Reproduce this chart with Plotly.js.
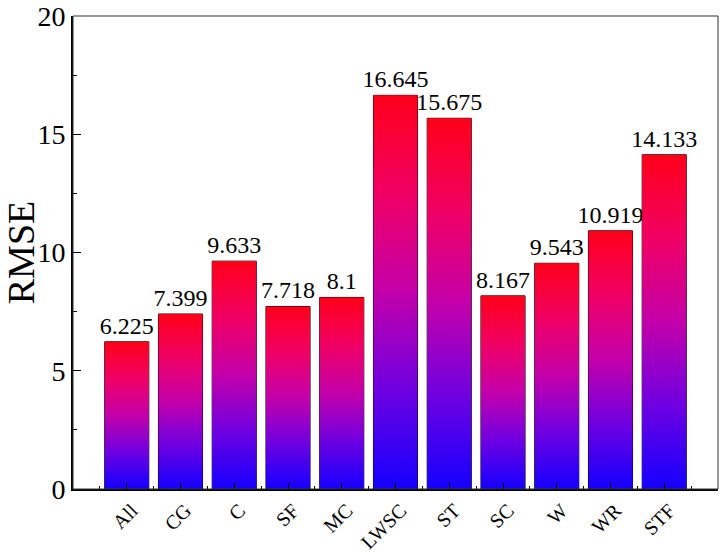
<!DOCTYPE html>
<html>
<head>
<meta charset="utf-8">
<script src="https://cdn.plot.ly/plotly-3.0.1.min.js"></script>
<style>html,body{margin:0;padding:0;background:#fff;}#chart{width:720px;height:552px;}</style>
</head>
<body>
<div id="chart"></div>
<script>
const categories = ["All","CG","C","SF","MC","LWSC","ST","SC","W","WR","STF"];
const rmse = [6.225, 7.399, 9.633, 7.718, 8.1, 16.645, 15.675, 8.167, 9.543, 10.919, 14.133];
const yTicks = [0, 5, 10, 15, 20];

const FONT = 'Liberation Serif, Times New Roman, serif';
const barWidth = 0.82;
const gradient = [
  [0, 'rgb(20,0,255)'],
  [0.25, 'rgb(110,0,225)'],
  [0.5, 'rgb(195,0,170)'],
  [0.75, 'rgb(240,0,100)'],
  [1, 'rgb(255,0,25)']
];
const idx = categories.map((c, i) => i);

const traces = [];
categories.forEach((c, i) => {
  const v = rmse[i];
  const h = barWidth / 2;
  traces.push({
    type: 'scatter', mode: 'lines',
    x: [i - h, i + h, i + h, i - h, i - h],
    y: [0, 0, v, v, 0],
    fill: 'toself',
    fillgradient: {type: 'vertical', colorscale: gradient},
    line: {width: 0, color: 'rgba(0,0,0,0)'},
    hoverinfo: 'skip', showlegend: false
  });
});
traces.push({
  type: 'bar',
  x: idx, y: rmse, width: barWidth,
  marker: {color: 'rgba(0,0,0,0)', line: {color: '#000', width: 1}},
  text: rmse.map(String), textposition: 'outside', constraintext: 'none',
  textfont: {family: FONT, size: 24, color: '#000'},
  cliponaxis: false,
  customdata: categories,
  hovertemplate: '%{customdata}: %{y}<extra></extra>',
  showlegend: false
});

const layout = {
  width: 720, height: 552,
  margin: {l: 73, r: 2, t: 16, b: 63},
  paper_bgcolor: '#fff', plot_bgcolor: '#fff',
  font: {family: FONT, color: '#000'},
  showlegend: false,
  xaxis: {
    range: [-1, 11],
    tickmode: 'array', tickvals: idx, ticktext: categories,
    tickangle: -45,
    ticklabelshift: 5,
    tickfont: {family: FONT, size: 20, color: '#000'},
    ticks: 'inside', ticklen: 6, tickwidth: 1, tickcolor: '#000',
    minor: {dtick: 0.5, tick0: 0.5, ticks: 'inside', ticklen: 3, tickwidth: 1, tickcolor: '#000'},
    showline: true, linecolor: '#000', linewidth: 2,
    showgrid: false, zeroline: false
  },
  yaxis: {
    range: [0, 20],
    tickmode: 'array', tickvals: yTicks,
    ticklabeloverflow: 'allow',
    tickfont: {family: FONT, size: 28, color: '#000'},
    ticks: 'inside', ticklen: 8, tickwidth: 1, tickcolor: '#000',
    minor: {dtick: 2.5, ticks: 'inside', ticklen: 4, tickwidth: 1, tickcolor: '#000'},
    showline: true, linecolor: '#000', linewidth: 2,
    showgrid: false, zeroline: false,
    title: {text: 'RMSE', font: {family: FONT, size: 38, color: '#000'}, standoff: 4}
  },
  shapes: [{
    type: 'rect', xref: 'paper', yref: 'paper', x0: 0, x1: 1, y0: 0, y1: 1,
    line: {color: '#333', width: 1}, fillcolor: 'rgba(0,0,0,0)', layer: 'above'
  }]
};

Plotly.newPlot('chart', traces, layout, {displayModeBar: false});
</script>
</body>
</html>
